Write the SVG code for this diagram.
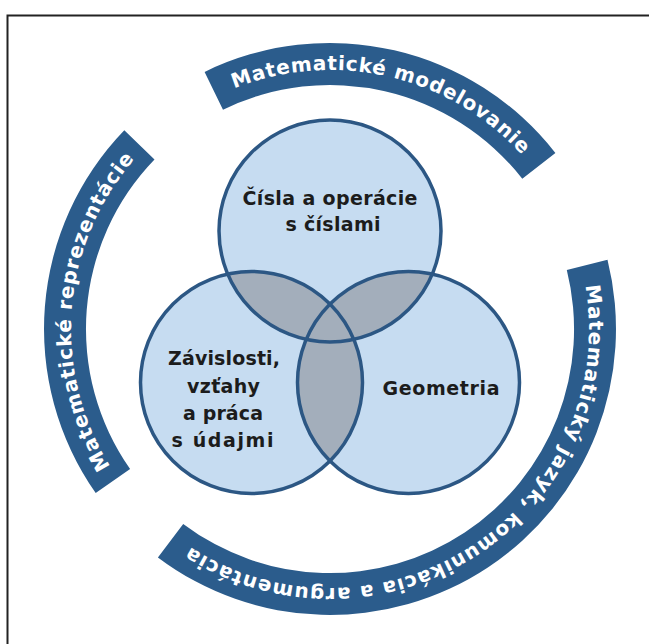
<svg xmlns="http://www.w3.org/2000/svg" width="649" height="644" viewBox="0 0 649 644">
  <style>
    .band { fill: #2b5c8c; }
    .bandtext { fill: #ffffff; font-family: "DejaVu Sans", "Liberation Sans", sans-serif; font-weight: 700; font-size: 20px; }
    .venn { fill: #c6dcf1; }
    .vennstroke { fill: none; stroke: #2c5784; stroke-width: 3.5; }
    .overlap { fill: #a3aebb; }
    .label { fill: #1c1c1c; font-family: "DejaVu Sans", "Liberation Sans", sans-serif; font-weight: 700; font-size: 19px; text-anchor: middle; }
  </style>
  <defs>
    <clipPath id="clipTop"><circle cx="330" cy="231" r="111"/></clipPath>
    <clipPath id="clipLeft"><circle cx="251.5" cy="382.5" r="111"/></clipPath>
    <clipPath id="clipRight"><circle cx="408.5" cy="382.5" r="111"/></clipPath>
    <path id="arcTop" d="M216.5 96.2 A259 259 0 0 1 534.1 169.5"/>
    <path id="arcRight" d="M581.3 266.3 A259 259 0 0 1 174.1 535.8"/>
    <path id="arcLeft" d="M117.8 477.6 A259 259 0 0 1 143.7 149.1"/>
  </defs>
  <rect width="649" height="644" fill="#ffffff"/>
  <path d="M7.5 644 V15.5 H649" fill="none" stroke="#222222" stroke-width="2"/>

  <g id="band-modelovanie">
    <path class="band" d="M204.6 71.9 A286 286 0 0 1 555.4 152.9 L522.3 178.8 A244 244 0 0 0 223 109.7 Z"/>
    <text class="bandtext"><textPath href="#arcTop" startOffset="50%" text-anchor="middle" textLength="314">Matematické modelovanie</textPath></text>
  </g>
  <g id="band-jazyk">
    <path class="band" d="M607.5 259.8 A286 286 0 0 1 157.9 557.4 L183.2 523.9 A244 244 0 0 0 566.8 270 Z"/>
    <text class="bandtext"><textPath href="#arcRight" startOffset="50%" text-anchor="middle" textLength="598">Matematický jazyk, komunikácia a argumentácia</textPath></text>
  </g>
  <g id="band-reprezentacie">
    <path class="band" d="M95.7 493 A286 286 0 0 1 124.3 130.3 L154.5 159.5 A244 244 0 0 0 130.1 469 Z"/>
    <text class="bandtext"><textPath href="#arcLeft" startOffset="50%" text-anchor="middle" textLength="330">Matematické reprezentácie</textPath></text>
  </g>

  <g id="venn-fills">
    <circle class="venn" cx="330" cy="231" r="111"/>
    <circle class="venn" cx="251.5" cy="382.5" r="111"/>
    <circle class="venn" cx="408.5" cy="382.5" r="111"/>
  </g>
  <g id="overlaps">
    <circle class="overlap" cx="251.5" cy="382.5" r="111" clip-path="url(#clipTop)"/>
    <circle class="overlap" cx="408.5" cy="382.5" r="111" clip-path="url(#clipTop)"/>
    <circle class="overlap" cx="408.5" cy="382.5" r="111" clip-path="url(#clipLeft)"/>
  </g>

  <g id="node-cisla">
    <circle class="vennstroke" cx="330" cy="231" r="111"/>
    <text class="label" x="330" y="205" textLength="175">Čísla a operácie</text>
    <text class="label" x="333" y="231" textLength="95">s číslami</text>
  </g>
  <g id="node-zavislosti">
    <circle class="vennstroke" cx="251.5" cy="382.5" r="111"/>
    <text class="label" x="224" y="365" textLength="112">Závislosti,</text>
    <text class="label" x="223.5" y="393" textLength="73">vzťahy</text>
    <text class="label" x="223" y="420" textLength="80">a práca</text>
    <text class="label" x="222.5" y="447" textLength="102">s údajmi</text>
  </g>
  <g id="node-geometria">
    <circle class="vennstroke" cx="408.5" cy="382.5" r="111"/>
    <text class="label" x="441" y="395" textLength="117">Geometria</text>
  </g>
  <g id="connectors"/>
</svg>
